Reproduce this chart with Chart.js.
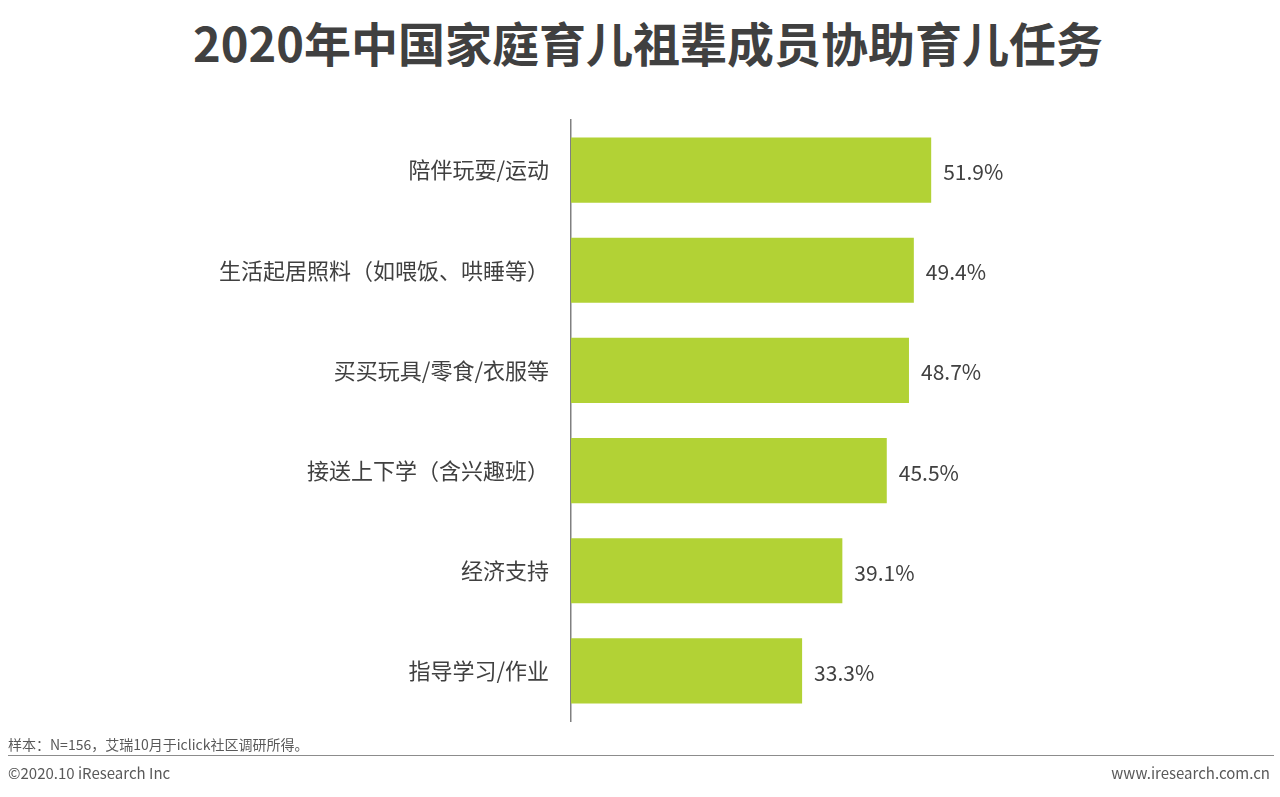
<!DOCTYPE html>
<html><head><meta charset="utf-8">
<script src="https://cdn.jsdelivr.net/npm/chart.js@4/dist/chart.umd.min.js"></script>
<style>
body{margin:0;width:1280px;height:797px;position:relative;background:#fff;font-family:"Noto Sans CJK SC","Noto Sans",sans-serif;overflow:hidden}
#t{position:absolute;top:12px;left:0;width:1296px;text-align:center;font-size:47px;font-weight:bold;color:#404040;line-height:60px}
#c{position:absolute;left:0;top:0}
.f{position:absolute;font-size:15px;color:#595959}
#ln{position:absolute;left:8px;width:1266px;top:755px;border-top:1.5px solid #8c8c8c}
</style></head><body>
<div id="t">2020年中国家庭育儿祖辈成员协助育儿任务</div>
<canvas id="c" width="1280" height="797"></canvas>
<div class="f" style="left:8px;top:734px;font-size:14px">样本：N=156，艾瑞10月于iclick社区调研所得。</div>
<div id="ln"></div>
<div class="f" style="left:8px;top:762px">©2020.10 iResearch Inc</div>
<div class="f" style="right:10px;top:762px">www.iresearch.com.cn</div>
<script>
const categories=["陪伴玩耍/运动","生活起居照料（如喂饭、哄睡等）","买买玩具/零食/衣服等","接送上下学（含兴趣班）","经济支持","指导学习/作业"];
const values=[51.9,49.4,48.7,45.5,39.1,33.3];
const lbl={id:'lbl',afterDatasetsDraw(ch){const c=ch.ctx;c.save();c.font='21px "Noto Sans CJK SC"';c.fillStyle='#404040';c.textBaseline='middle';
ch.getDatasetMeta(0).data.forEach((b,i)=>c.fillText(values[i].toFixed(1)+'%',b.x+12,b.y+2));c.restore();}};
new Chart(document.getElementById('c'),{type:'bar',data:{labels:categories,datasets:[{data:values,backgroundColor:'#B2D235',barPercentage:0.65,categoryPercentage:1}]},
options:{indexAxis:'y',responsive:false,animation:false,layout:{padding:{top:120,bottom:76,right:15,left:0}},
plugins:{legend:{display:false},tooltip:{enabled:false}},
scales:{x:{display:false,min:0,max:100},y:{afterFit(s){s.width=571},grid:{display:false,drawTicks:false},border:{color:'#808080',width:1.5},
ticks:{color:'#404040',font:{size:22,family:'"Noto Sans CJK SC"'},padding:22}}}},plugins:[lbl]});
</script></body></html>
